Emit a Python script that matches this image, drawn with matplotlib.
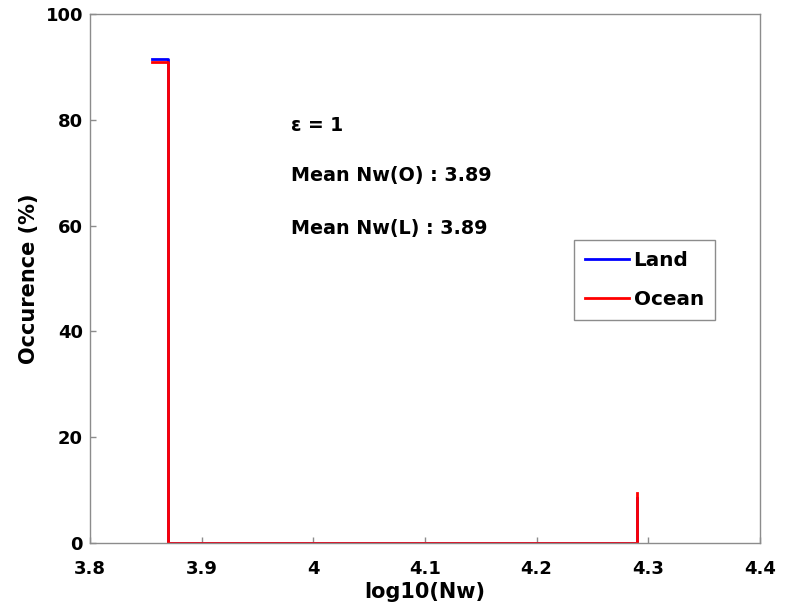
import matplotlib
matplotlib.use("Agg")
import matplotlib.pyplot as plt

# bin edges (log10 Nw) and occurrence (%) per bin
nw_edges = [3.856, 3.870, 4.290]
land_pct = [91.5, 0.0, 8.5]
ocean_pct = [90.9, 0.0, 9.5]

eps_val = 1
mean_nw_ocean = 3.89
mean_nw_land = 3.89

plt.rcParams['font.family'] = ['DejaVu Sans']
plt.rcParams['font.weight'] = 'bold'

fig = plt.figure(figsize=(7.89, 6.10), dpi=100)
ax = fig.add_axes([0.114, 0.110, 0.849, 0.867])

# stairs, like matlab
ax.step(nw_edges, land_pct, where='post', color='#0000ff', lw=2, label='Land')
ax.step(nw_edges, ocean_pct, where='post', color='#ff0000', lw=2, label='Ocean')

ax.set_xlim(3.8, 4.4)
ax.set_ylim(0, 100)
ax.set_xticks([3.8, 3.9, 4.0, 4.1, 4.2, 4.3, 4.4])
ax.set_xticklabels(['3.8', '3.9', '4', '4.1', '4.2', '4.3', '4.4'])
ax.set_yticks([0, 20, 40, 60, 80, 100])

for sp in ax.spines.values():
    sp.set_color('#8c8c8c')
    sp.set_linewidth(1)
ax.tick_params(direction='in', length=4, width=1, color='#8c8c8c',
               labelsize=13, top=False, right=False)
ax.tick_params(axis='x', pad=12)
ax.tick_params(axis='y', pad=5)
for lab in ax.get_xticklabels() + ax.get_yticklabels():
    lab.set_fontweight('bold')

ax.set_xlabel('log10(Nw)', fontsize=15, fontweight='bold', labelpad=3)
ax.set_ylabel('Occurence (%)', fontsize=15, fontweight='bold', labelpad=5)

ax.text(3.98, 79, '\u03b5 = %d' % eps_val, fontsize=13.5, fontweight='bold', va='center')
ax.text(3.98, 69.5, 'Mean Nw(O) : %.2f' % mean_nw_ocean, fontsize=13.8,
        fontweight='bold', va='center')
ax.text(3.98, 59.5, 'Mean Nw(L) : %.2f' % mean_nw_land, fontsize=13.8,
        fontweight='bold', va='center')

leg = ax.legend(loc='upper left', bbox_to_anchor=(0.722, 0.5735),
                prop={'weight': 'bold', 'size': 14.4}, handlelength=2.2,
                fancybox=False, framealpha=1, borderpad=0.55, labelspacing=1.0,
                handletextpad=0.25, borderaxespad=0)
leg.get_frame().set_edgecolor('#8c8c8c')
leg.get_frame().set_linewidth(1)

fig.savefig('out.png', dpi=100)
